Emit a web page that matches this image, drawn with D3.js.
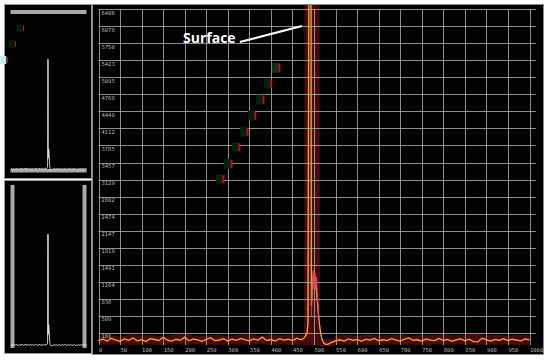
<!DOCTYPE html>
<html>
<head>
<meta charset="utf-8">
<script src="https://cdn.jsdelivr.net/npm/d3@7"></script>
<style>
  body { margin: 0; background: #fff; }
  svg { display: block; }
</style>
</head>
<body>
<div id="viz"></div>
<script>
// tick labels
var xTickLabels = [0,50,100,150,200,250,300,350,400,450,500,550,600,650,700,750,800,850,900,950,1000];
var yTickLabels = [6406,6078,5750,5423,5095,4768,4440,4112,3785,3457,3129,2802,2474,2147,1819,1491,1164,836,509,181];

// main signal [position, amplitude]
var signal = [
	[0,30],[10,55],[20,20],[30,70],[40,40],[50,15],[60,60],[70,35],[80,80],[90,25],
	[100,45],[110,10],[120,65],[130,50],[140,30],[150,90],[160,40],[170,20],[180,55],[190,35],
	[200,95],[210,25],[220,60],[230,45],[240,15],[250,50],[260,85],[270,30],[280,40],[290,65],
	[300,20],[310,55],[320,35],[330,70],[340,45],[350,25],[360,60],[370,40],[380,95],[390,30],
	[400,50],[410,20],[420,65],[430,40],[440,55],[450,30],[460,75],[470,45],[476,70],[480,110],
	[484,180],[486,350],[488,6900],[490,6900],[492,6900],[493,6900],[494,700],[496,1050],[498,1230],[500,1300],
	[502,1240],[504,1120],[506,950],[508,760],[510,560],[512,400],[514,260],[516,150],[518,70],[521,10],
	[524,-30],[528,-45],[532,-40],[536,-30],[540,-10],[550,25],[560,45],[570,20],[580,60],[590,35],
	[600,50],[610,15],[620,55],[630,40],[640,70],[650,25],[660,45],[670,30],[680,65],[690,40],
	[700,20],[710,55],[720,80],[730,35],[740,45],[750,20],[760,60],[770,40],[780,30],[790,70],
	[800,35],[810,50],[820,15],[830,45],[840,60],[850,25],[860,55],[870,10],[880,5],[890,75],
	[900,45],[910,20],[920,50],[930,35],[940,65],[950,30],[960,55],[970,40],[980,25],[990,60],[1000,45]
];

// red min/max envelope [position, low, high]
var envelope = [
	[0,-40,120],[25,-50,140],[50,-35,110],[75,-55,150],[100,-40,125],[125,-45,135],[150,-60,115],
	[175,-35,145],[200,-50,160],[225,-40,120],[250,-45,130],[275,-55,140],[300,-40,115],[325,-50,135],
	[350,-45,150],[375,-35,120],[400,-55,140],[425,-40,125],[450,-50,145],[470,-45,130],[477,-45,150],
	[478,-60,7000],[513,-60,7000],[514,-80,60],[545,-80,70],[550,-45,130],[575,-50,140],[600,-40,120],
	[625,-55,150],[650,-45,125],[675,-40,135],[700,-50,145],[725,-45,120],[750,-55,140],[775,-40,130],
	[800,-50,150],[825,-45,125],[850,-40,140],[875,-55,170],[900,-45,130],[925,-50,145],[950,-40,125],
	[975,-55,140],[1000,-45,130]
];

// echo after the surface
var echo = [[494,500],[496,1150],[498,1380],[500,1020],[502,1330],[504,1080],[506,1250],[508,850],[510,600],[512,380]];

// trail marks
var trailX = [291,310,328,347,365,384,402,421];
var trailY = [3134,3432,3750,4050,4358,4666,4974,5282];
var miniTrail = [0,1,2];

var svg = d3.select("#viz")
	.append("svg")
	.attr("width",550)
	.attr("height",361);

svg.append("rect").attr("width",550).attr("height",361).attr("fill","#fff");

// ---------- left mini panels ----------
var xm = d3.scaleLinear().domain([0,1000]).range([10.7,86.7]);
var ymTop = d3.scaleLinear().domain([0,6900]).range([169.5,59.3]);
var ymBot = d3.scaleLinear().domain([0,6900]).range([345.7,234.3]);

svg.append("rect").attr("x",4.5).attr("y",4.5).attr("width",87).attr("height",174)
	.attr("fill","#000").attr("stroke","#9a9a9a");
svg.append("rect").attr("x",4.5).attr("y",180.5).attr("width",87).attr("height",173)
	.attr("fill","#000").attr("stroke","#9a9a9a");

svg.append("rect").attr("x",10.5).attr("y",10).attr("width",76).attr("height",4).attr("fill","#a8a8a8");
svg.append("rect").attr("x",10.5).attr("y",169).attr("width",76).attr("height",3.5).attr("fill","#a8a8a8");
svg.append("rect").attr("x",10.5).attr("y",185).attr("width",4).attr("height",163).attr("fill","#a8a8a8");
svg.append("rect").attr("x",82.5).attr("y",185).attr("width",4).attr("height",163).attr("fill","#a8a8a8");

var miniLineTop = d3.line().x(function(d){return xm(d[0])}).y(function(d){return ymTop(d[1])});
var miniLineBot = d3.line().x(function(d){return xm(d[0])}).y(function(d){return ymBot(Math.max(d[1],0))});
svg.append("path").datum(signal).attr("d",miniLineTop)
	.attr("fill","none").attr("stroke","#d6e2ee").attr("stroke-width",0.9);
svg.append("path").datum(signal).attr("d",miniLineBot)
	.attr("fill","none").attr("stroke","#e4ecf4").attr("stroke-width",0.9);

var mtx = d3.scaleLinear().domain([0,2]).range([7.3,23.3]);
var mty = d3.scaleLinear().domain([0,2]).range([60,28.3]);
miniTrail.forEach(function(i){
	svg.append("rect").attr("x",mtx(i)-7).attr("y",mty(i)-4).attr("width",6).attr("height",8)
		.attr("fill", i==0 ? "#c4eeee" : "#061a0b");
	svg.append("rect").attr("x",mtx(i)-0.5).attr("y",mty(i)-3).attr("width",1.2).attr("height",6)
		.attr("fill","#b01020");
});

// ---------- main panel ----------
var x = d3.scaleLinear().domain([0,1000]).range([98.5,529.5]);
var y = d3.scaleLinear().domain([181,6406]).range([332.7,9.3]);

svg.append("rect").attr("x",92.5).attr("y",4.5).attr("width",451).attr("height",350)
	.attr("fill","#000").attr("stroke","#8a8a8a");

svg.append("clipPath").attr("id","clip")
	.append("rect").attr("x",93).attr("y",5).attr("width",450).attr("height",349);

var plot = svg.append("g").attr("clip-path","url(#clip)");

// envelope
var area = d3.area()
	.x(function(d){return x(d[0])})
	.y0(function(d){return y(d[1])})
	.y1(function(d){return y(d[2])});
plot.append("path").datum(envelope).attr("d",area)
	.attr("fill","#520c0c").attr("opacity",0.85);

// grid
plot.selectAll("line.h").data(yTickLabels).enter().append("line")
	.attr("x1",x(0)).attr("x2",536)
	.attr("y1",function(d){return Math.round(y(d))+0.5})
	.attr("y2",function(d){return Math.round(y(d))+0.5})
	.attr("stroke","#a6a6a6").attr("stroke-width",0.85);
plot.selectAll("line.v").data(xTickLabels).enter().append("line")
	.attr("y1",y(6406)).attr("y2",345)
	.attr("x1",function(d){return Math.round(x(d))+0.5})
	.attr("x2",function(d){return Math.round(x(d))+0.5})
	.attr("stroke","#a6a6a6").attr("stroke-width",0.85);

// tick labels
svg.selectAll("text.yl").data(yTickLabels).enter().append("text")
	.attr("x",101.5).attr("y",function(d){return y(d)+5.5})
	.attr("font-family","DejaVu Sans Mono").attr("font-size",5.5)
	.attr("fill","#b8b8b8").text(function(d){return d});
svg.selectAll("text.xl").data(xTickLabels).enter().append("text")
	.attr("x",function(d){return x(d)+0.5}).attr("y",352)
	.attr("font-family","DejaVu Sans Mono").attr("font-size",5.5)
	.attr("fill","#b8b8b8").text(function(d){return d});

// trail
trailX.forEach(function(tx,i){
	plot.append("rect").attr("x",x(tx)-8).attr("y",y(trailY[i])-5).attr("width",7).attr("height",10)
		.attr("fill", i==trailX.length-1 ? "#0c3318" : "#06200d");
	plot.append("rect").attr("x",x(tx)-1.5).attr("y",y(trailY[i])-4).attr("width",2).attr("height",8)
		.attr("fill","#b81020");
});

// signal
var line = d3.line().x(function(d){return x(d[0])}).y(function(d){return y(d[1])});
plot.append("path").datum(signal).attr("d",line)
	.attr("fill","none").attr("stroke","#e88a24").attr("stroke-width",1.3);
plot.append("path").datum(signal).attr("d",line)
	.attr("fill","none").attr("stroke","#f2cc4a").attr("stroke-width",0.5);
plot.append("path").datum(echo).attr("d",line)
	.attr("fill","none").attr("stroke","#e0406a").attr("stroke-width",0.9);

// annotation
svg.append("text").attr("x",183).attr("y",42.5)
	.attr("font-family","Open Sans").attr("font-weight","bold").attr("font-size",14)
	.attr("fill","#fff").text("Surface");
svg.append("line")
	.attr("x1",x(328)).attr("y1",y(5777))
	.attr("x2",x(472)).attr("y2",y(6085))
	.attr("stroke","#fff").attr("stroke-width",2.2);
</script>
</body>
</html>
